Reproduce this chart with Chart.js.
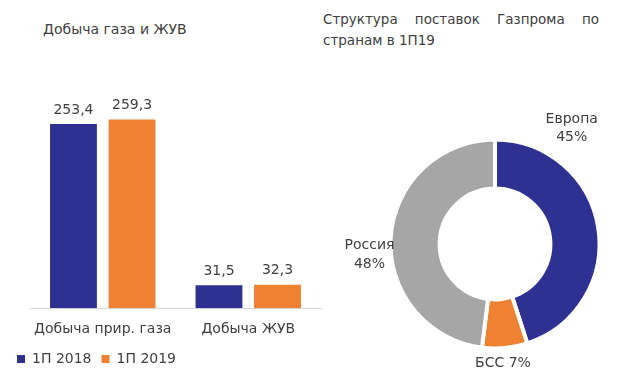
<!DOCTYPE html>
<html>
<head>
<meta charset="utf-8">
<script src="https://cdn.jsdelivr.net/npm/chart.js@4.4.0/dist/chart.umd.min.js"></script>
<style>
  body{margin:0;width:620px;height:391px;background:#fff;position:relative;overflow:hidden;font-family:"DejaVu Sans",Verdana,sans-serif;color:#404040}
  .title{position:absolute;font-size:14px;line-height:21px}
  #t1{left:43px;top:19px}
  #t2{left:323px;top:9px;width:276px;text-align:justify;font-size:13.5px}
  #barWrap{position:absolute;left:5px;top:80px;width:320px;height:296px}
  #pieWrap{position:absolute;left:330px;top:100px;width:290px;height:291px}
</style>
</head>
<body>
<div class="title" id="t1">Добыча газа и ЖУВ</div>
<div class="title" id="t2">Структура поставок Газпрома по странам в 1П19</div>
<div id="barWrap"><canvas id="bar"></canvas></div>
<div id="pieWrap"><canvas id="pie"></canvas></div>
<script>
// bar chart data
const categories = ['Добыча прир. газа', 'Добыча ЖУВ'];
const seriesNames = ['1П 2018', '1П 2019'];
const values2018 = [253.4, 31.5];
const values2019 = [259.3, 32.3];
// donut data
const regions = ['Европа', 'БСС', 'Россия'];
const shares = [45, 7, 48];

const BLUE = '#2E3192', ORANGE = '#EF8132', GRAY = '#A6A6A6', TXT = '#404040';
const FONT = '"DejaVu Sans", Verdana, sans-serif';
Chart.defaults.font.family = FONT;
Chart.defaults.color = TXT;
Chart.defaults.animation = false;

const fmt = v => v.toFixed(1).replace('.', ',');

const barLabels = {
  id: 'barLabels',
  afterDatasetsDraw(chart){
    const c = chart.ctx;
    c.save();
    c.font = '14px ' + FONT; c.fillStyle = TXT;
    c.textAlign = 'center'; c.textBaseline = 'bottom';
    chart.data.datasets.forEach((ds, i)=>{
      chart.getDatasetMeta(i).data.forEach((b, j)=>{
        c.fillText(fmt(ds.data[j]), b.x, b.y - 7);
      });
    });
    c.restore();
  }
};

new Chart(document.getElementById('bar'), {
  type: 'bar',
  data: {
    labels: categories,
    datasets: [
      {label: seriesNames[0], data: values2018, backgroundColor: BLUE},
      {label: seriesNames[1], data: values2019, backgroundColor: ORANGE}
    ]
  },
  options: {
    responsive: true, maintainAspectRatio: false,
    layout: {padding: {left: 2, right: 4, top: 10, bottom: 0}},
    categoryPercentage: 0.805, barPercentage: 0.8,
    plugins: {
      legend: {
        position: 'bottom', align: 'start',
        labels: {boxWidth: 8, boxHeight: 8, padding: 10, font: {size: 14}, color: TXT}
      },
      tooltip: {enabled: false}
    },
    scales: {
      x: {
        grid: {display: false, drawTicks: false},
        border: {display: true, color: '#D9D9D9'},
        ticks: {padding: 13, font: {size: 14}, color: TXT},
        afterFit(s){ s.height -= 9; }
      },
      y: {
        min: 0, max: 300,
        grid: {display: false, drawTicks: false},
        border: {display: false},
        ticks: {display: false},
        afterFit(s){ s.width = 23; }
      }
    }
  },
  plugins: [barLabels]
});

// label placement: [angle shift in degrees, distance from centre in px]
const pieLabelPlace = [[-47.5, 139], [1.6, 120], [-8.5, 126]];

const pieLabels = {
  id: 'pieLabels',
  afterDatasetsDraw(chart){
    const c = chart.ctx;
    c.save();
    c.font = '14px ' + FONT; c.fillStyle = TXT;
    c.textAlign = 'center'; c.textBaseline = 'middle';
    chart.getDatasetMeta(0).data.forEach((a, i)=>{
      const mid = (a.startAngle + a.endAngle) / 2 + pieLabelPlace[i][0] * Math.PI / 180;
      const x = a.x + Math.cos(mid) * pieLabelPlace[i][1];
      const y = a.y + Math.sin(mid) * pieLabelPlace[i][1];
      const txt = shares[i] + '%';
      if (regions[i] === 'БСС') c.fillText(regions[i] + ' ' + txt, x, y);
      else { c.fillText(regions[i], x, y - 9.2); c.fillText(txt, x, y + 9.2); }
    });
    c.restore();
  }
};

new Chart(document.getElementById('pie'), {
  type: 'doughnut',
  data: {
    labels: regions,
    datasets: [{data: shares, backgroundColor: [BLUE, ORANGE, GRAY], borderColor: '#fff', borderWidth: 4, hoverOffset: 0}]
  },
  options: {
    responsive: true, maintainAspectRatio: false,
    cutout: '53%',
    layout: {padding: {left: 58.5, right: 18.5, top: 37.5, bottom: 40.5}},
    plugins: {legend: {display: false}, tooltip: {enabled: false}}
  },
  plugins: [pieLabels]
});
</script>
</body>
</html>
